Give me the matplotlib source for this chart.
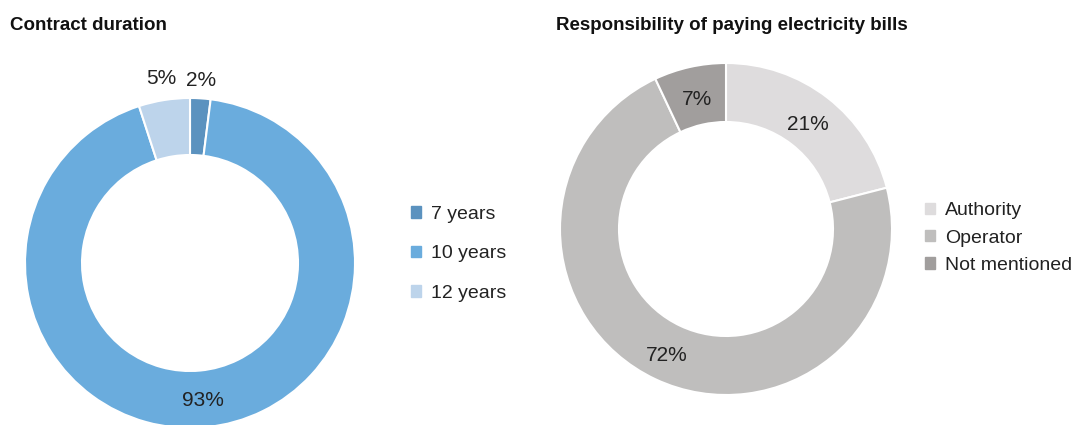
import numpy as np
import matplotlib.pyplot as plt
from matplotlib.patches import Patch

W, H = 1078, 425

# contract duration donut
duration_labels = ['7 years', '10 years', '12 years']
duration_share = [2, 93, 5]
duration_colors = ['#5b92bf', '#6aacdd', '#bdd4eb']

# who pays the electricity bills
bills_labels = ['Authority', 'Operator', 'Not mentioned']
bills_share = [21, 72, 7]
bills_colors = ['#dedcdd', '#bfbebd', '#a19e9d']

plt.rcParams['font.family'] = ['Liberation Sans Narrow', 'Liberation Sans', 'DejaVu Sans']

fig = plt.figure(figsize=(W / 100, H / 100), dpi=100)
ax = fig.add_axes([0, 0, 1, 1])


def donut(values, colors, center, radius, hole, label_dist):
    wedges, _ = ax.pie(values, colors=colors, startangle=90, counterclock=False,
                       center=center, radius=radius,
                       wedgeprops=dict(width=radius - hole, edgecolor='white', linewidth=1.5))
    for w, v, d in zip(wedges, values, label_dist):
        ang = np.deg2rad((w.theta1 + w.theta2) / 2)
        ax.text(center[0] + d * radius * np.cos(ang), center[1] + d * radius * np.sin(ang),
                f'{v}%', ha='center', va='center', fontsize=15, color='#222222')
    return wedges


donut(duration_share, duration_colors, (190, H - 263), 165, 108, [1.11, 0.84, 1.13])
donut(bills_share, bills_colors, (726, H - 229), 166, 107, [0.80, 0.84, 0.80])

ax.set_xlim(0, W)
ax.set_ylim(0, H)
ax.set_aspect('equal')
ax.axis('off')

fig.text(10 / W, 1 - 25 / H, 'Contract duration', fontsize=13.5, fontweight='bold',
         va='center', color='#111111')
fig.text(556 / W, 1 - 25 / H, 'Responsibility of paying electricity bills', fontsize=13.5,
         fontweight='bold', va='center', color='#111111')

fig.legend(handles=[Patch(color=c) for c in duration_colors], labels=duration_labels,
           loc='center left', bbox_to_anchor=(393 / W, 1 - 254 / H), frameon=False,
           fontsize=14, handlelength=0.55, handleheight=0.55, handletextpad=0.5,
           labelspacing=1.15, labelcolor='#222222')
fig.legend(handles=[Patch(color=c) for c in bills_colors], labels=bills_labels,
           loc='center left', bbox_to_anchor=(907 / W, 1 - 238 / H), frameon=False,
           fontsize=14, handlelength=0.55, handleheight=0.55, handletextpad=0.5,
           labelspacing=0.52, labelcolor='#222222')

fig.savefig('out.png', dpi=100)
